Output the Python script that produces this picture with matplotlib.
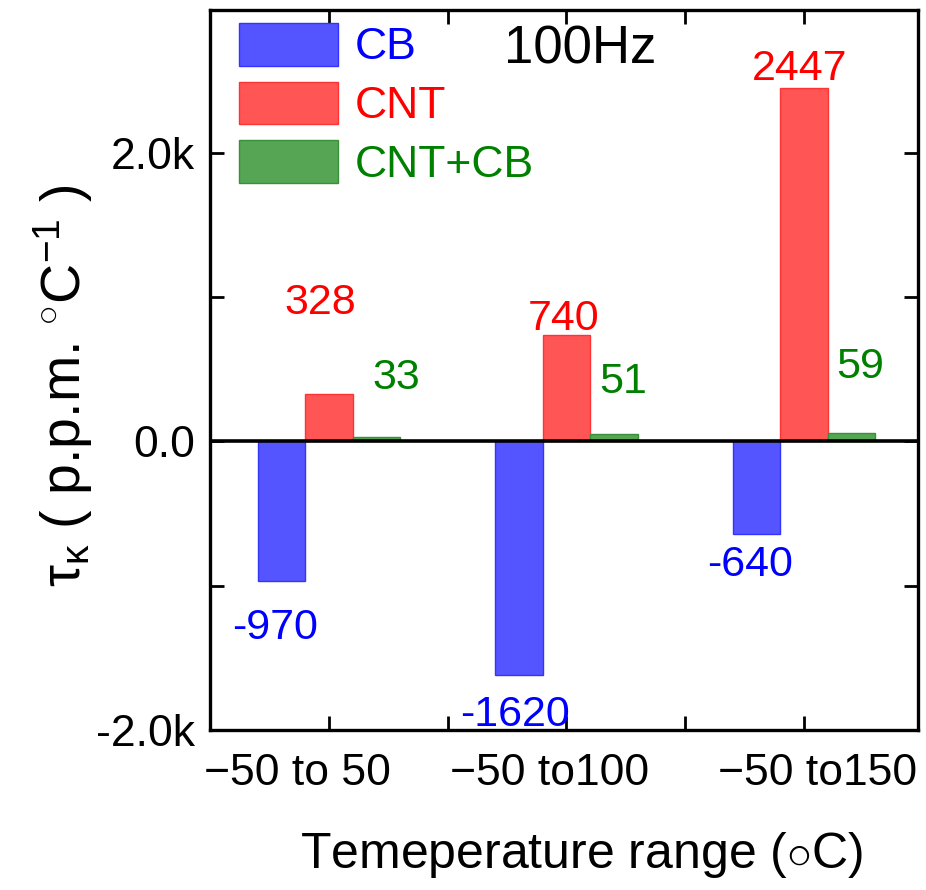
import numpy as np
import matplotlib
matplotlib.use("Agg")
import matplotlib.pyplot as plt
from matplotlib.patches import Patch

plt.rcParams['font.family'] = ['Liberation Sans', 'DejaVu Sans']
plt.rcParams['mathtext.fontset'] = 'custom'
plt.rcParams['mathtext.rm'] = 'Liberation Sans'
plt.rcParams['mathtext.it'] = 'Liberation Sans:italic'

# data
ranges = ["\u221250 to 50", "\u221250 to100", "\u221250 to150"]
series = ["CB", "CNT", "CNT+CB"]
cb = [-970, -1620, -640]
cnt = [328, 740, 2447]
cntcb = [33, 51, 59]

face = ["#5555ff", "#ff5555", "#55a555"]
edge = ["#3333ff", "#ff3333", "#3a8f3a"]
txtc = ["#0000ff", "#ff0000", "#008000"]

fig = plt.figure(figsize=(9.26, 8.9), dpi=100)
ax = fig.add_axes([0.2268, 0.1798, 0.9914 - 0.2268, 0.9888 - 0.1798])

x = np.arange(len(ranges))
w = 0.2
for i, vals in enumerate([cb, cnt, cntcb]):
    ax.bar(x + (i - 1) * w, vals, w, color=face[i], edgecolor=edge[i], linewidth=1)

ax.axhline(0, color="black", lw=2.6, zorder=5)

# where the value labels sit (x in data units, y = baseline in data units)
lab_pos = {
    0: [(-0.227, -1368), (0.785, -1972), (1.773, -931)],
    1: [(-0.034, 880), (0.99, 770), (1.983, 2507)],
    2: [(0.286, 361), (1.24, 333), (2.236, 437)],
}
for i, vals in enumerate([cb, cnt, cntcb]):
    for j, v in enumerate(vals):
        px, py = lab_pos[i][j]
        ax.text(px, py, str(v), color=txtc[i], fontsize=31, ha="center", va="baseline")

ax.set_xlim(-0.5, 2.48)
ax.set_ylim(-2000, 2990)
ax.set_yticks([-2000, 0, 2000])
ax.set_yticklabels(["-2.0k", "0.0", "2.0k"], fontsize=32)
ax.set_yticks([-1000, 1000], minor=True)
ax.set_xticks([0, 1, 2])
ax.set_xticks([0.5, 1.5], minor=True)
ax.set_xticklabels([])
ax.tick_params(which="both", direction="in", width=2, length=10, top=True, right=True)
ax.tick_params(axis="y", which="major", pad=11)
for sp in ax.spines.values():
    sp.set_linewidth(2.4)

# x tick labels, drawn as text (baseline in axes fraction)
xlab_off = [-0.13, -0.072, 0.059]
for j, lbl in enumerate(ranges):
    ax.text(x[j] + xlab_off[j], -0.0764, lbl, transform=ax.get_xaxis_transform(),
            ha="center", va="baseline", fontsize=32)

ax.text(0.524, -0.192, "Temeperature range ($\\circ$C)", transform=ax.transAxes,
        ha="center", va="baseline", fontsize=36)
ax.text(-0.2076, 0.478, "τ$_{\\mathrm{κ}}$ ( p.p.m. $^{\\circ}$C$^{-1}$ )",
        transform=ax.transAxes, rotation=90, ha="center", va="center", fontsize=40)

handles = [Patch(facecolor=face[i], edgecolor=edge[i]) for i in range(3)]
leg = ax.legend(handles, series, loc="upper left", bbox_to_anchor=(0.041, 0.982),
                frameon=False, fontsize=32, handlelength=2.23, handleheight=1.1,
                labelspacing=0.3, handletextpad=0.38, borderpad=0, borderaxespad=0)
for t, c in zip(leg.get_texts(), txtc):
    t.set_color(c)

ax.text(0.523, 0.926, "100Hz", transform=ax.transAxes, ha="center", va="baseline", fontsize=38)

fig.savefig("out.png", dpi=100)
